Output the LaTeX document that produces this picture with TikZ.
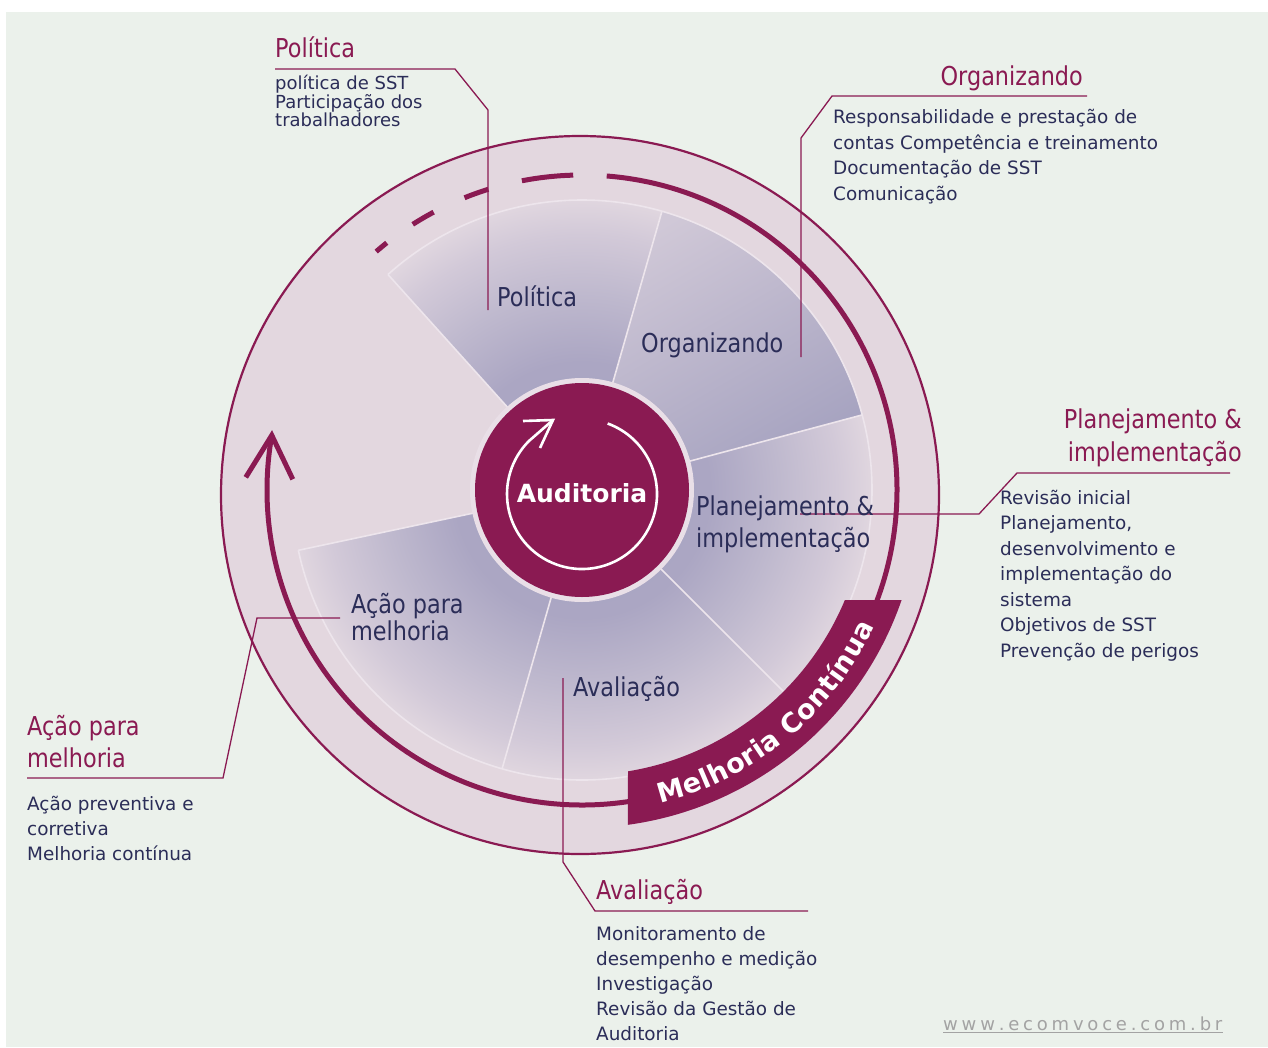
\documentclass[tikz,border=0pt]{standalone}
\usepackage{fontspec}
\setmainfont{DejaVu Sans}
\newfontfamily\tfont[FakeStretch=0.86]{DejaVu Sans}
\usetikzlibrary{decorations.text}
\definecolor{bgc}{HTML}{EBF1EB}
\definecolor{mar}{HTML}{8A1A52}
\definecolor{navy}{HTML}{2B2D58}
\definecolor{ringc}{HTML}{E3D7DF}
\definecolor{halo}{HTML}{E9DFE7}
\definecolor{sepc}{HTML}{EDE5EC}
\definecolor{webgray}{HTML}{A3A3A3}
\definecolor{pa}{HTML}{A6A2C0}
\definecolor{pb}{HTML}{ABA6C3}
\definecolor{pc}{HTML}{BFB9CE}
\definecolor{pd}{HTML}{D2C9D8}
\definecolor{pe}{HTML}{E0D6DF}
\definecolor{oa}{HTML}{D0C8D7}
\definecolor{ob}{HTML}{A4A1BF}
\pgfdeclareradialshading{pieshade}{\pgfpoint{0bp}{0bp}}{color(0bp)=(pa); color(11bp)=(pb); color(17bp)=(pc); color(22bp)=(pd); color(25bp)=(pe); color(50bp)=(pe)}
\newcommand\llines[2]{\vtop{\baselineskip=#1\lineskiplimit=-100pt\halign{##\hfil\cr#2\crcr}}}
\newcommand\rlines[2]{\vtop{\baselineskip=#1\lineskiplimit=-100pt\halign{\hfil##\cr#2\crcr}}}
\newcommand\mcfont{\bfseries\fontsize{25}{30}\selectfont}
\newcommand\bnfont{\bfseries\fontsize{27}{30}\selectfont}
\newcommand\lsp{\kern3.8pt}
\tikzset{
  lead/.style={draw=mar, line width=1.3pt},
  ttl/.style={inner sep=0, text=mar, font=\tfont\fontsize{26}{30}\selectfont},
  pielbl/.style={inner sep=0, text=navy, font=\tfont\fontsize{26}{30}\selectfont},
  body/.style={inner sep=0, text=navy, font=\fontsize{18.4}{25}\selectfont},
  cyc/.style={draw=mar, line width=5pt},
  sepline/.style={draw=sepc, line width=1.6pt},
}
\begin{document}
\begin{tikzpicture}[x=1pt,y=1pt]
\useasboundingbox (0,0) rectangle (1268,-1047);
\fill[bgc] (6,-12) rectangle (1268,-1047);
\coordinate (C) at (582,-490);
% outer disc
\filldraw[fill=ringc, draw=mar, line width=2.2pt] (580,-495) circle[radius=359];
% pie
\begin{scope}
  \clip (C) -- ++(132:290) arc[start angle=132, end angle=-168, radius=290] -- cycle;
  \shade[shading=pieshade] (C) circle[radius=290];
  \shade[top color=oa, bottom color=ob, shading angle=30] (C) -- ++(74:290) arc[start angle=74, end angle=15, radius=290] -- cycle;
\end{scope}
\draw[sepline] (C) ++(132:290) arc[start angle=132, end angle=-168, radius=290];
\foreach \a in {132,74,15,-45,-106,-168} \draw[sepline] (C) -- ++(\a:290);
% cycle arc
\draw[cyc] (C) ++(85.5:315) arc[start angle=85.5, end angle=-30, radius=315];
\foreach \a/\b in {130.8/128.3, 122.5/118.1, 111.9/107.3, 101/91.6}
  \draw[cyc] (C) ++(\a:315) arc[start angle=\a, end angle=\b, radius=315];
\draw[cyc] (C) ++(-78:315) arc[start angle=-78, end angle=-190, radius=315] coordinate (tip);
\draw[cyc, line join=miter] (tip) ++(-26,-42) -- (tip) -- ++(21,-44);
% banner
\fill[mar] (844.9,-600) -- (901.6,-600) arc[start angle=-19.0, end angle=-82.2, radius=338] -- (628,-771.3) arc[start angle=-80.7, end angle=-22.7, radius=285] -- cycle;
\path[decorate, decoration={text along path, text={|\color{white}\bnfont|Melhoria Contínua}, text align=fit to path}] (C) ++(-76:323) arc[start angle=-76, end angle=-25, radius=323];
% Auditoria
\fill[halo] (C) circle[radius=112];
\fill[mar] (C) circle[radius=107];
\coordinate (ac) at (582,-494);
\coordinate (atip) at (553,-420);
\draw[white, line width=2.6pt] (ac) ++(70:75) arc[start angle=70, end angle=-225, radius=75] -- (atip);
\draw[white, line width=2.6pt, line join=miter] (523,-421) -- (atip) -- (540,-448);
\node[anchor=base, text=white, font=\mcfont, inner sep=0] (aud) at (582,-502) {Auditoria};
% leader lines
\coordinate (l1a) at (275,-69); \coordinate (l1b) at (455,-69); \coordinate (l1c) at (488,-110); \coordinate (l1d) at (488,-310);
\draw[lead] (l1a) -- (l1b) -- (l1c) -- (l1d);
\coordinate (l2a) at (1087,-96); \coordinate (l2b) at (832,-96); \coordinate (l2c) at (801,-138); \coordinate (l2d) at (801,-357);
\draw[lead] (l2a) -- (l2b) -- (l2c) -- (l2d);
\coordinate (l3a) at (1230,-473); \coordinate (l3b) at (1017,-473); \coordinate (l3c) at (979,-514); \coordinate (l3d) at (800,-514);
\draw[lead] (l3a) -- (l3b) -- (l3c) -- (l3d);
\coordinate (l4a) at (27,-778); \coordinate (l4b) at (223,-778); \coordinate (l4c) at (257,-618); \coordinate (l4d) at (340,-618);
\draw[lead] (l4a) -- (l4b) -- (l4c) -- (l4d);
\coordinate (l5a) at (808,-911); \coordinate (l5b) at (595,-911); \coordinate (l5c) at (563,-862); \coordinate (l5d) at (563,-678);
\draw[lead] (l5a) -- (l5b) -- (l5c) -- (l5d);
% pie labels
\node[pielbl, anchor=base west] (ppol) at (497,-306) {Política};
\node[pielbl, anchor=base west] (porg) at (641,-352) {Organizando};
\node[pielbl, anchor=base west] (ppla) at (696,-515) {\llines{32pt}{Planejamento \&\cr implementação}};
\node[pielbl, anchor=base west] (pacao) at (351,-613) {\llines{27pt}{Ação para\cr melhoria}};
\node[pielbl, anchor=base west] (paval) at (573,-696) {Avaliação};
% titles
\node[ttl, anchor=base west] (tpol) at (275,-57) {Política};
\node[ttl, anchor=base east] (torg) at (1083,-85) {Organizando};
\node[ttl, anchor=base east] (tpla) at (1242,-428) {\rlines{33pt}{Planejamento \&\cr implementação}};
\node[ttl, anchor=base west] (tacao) at (27,-735) {\llines{32pt}{Ação para\cr melhoria}};
\node[ttl, anchor=base west] (taval) at (596,-899) {Avaliação};
% bodies
\node[body, anchor=base west, font=\fontsize{18}{19}\selectfont] (bpol) at (275,-89.5) {\llines{18.7pt}{política de SST\cr Participação dos\cr trabalhadores}};
\node[body, anchor=base west] (borg) at (833,-123.3) {\llines{25.7pt}{Responsabilidade e prestação de\cr contas Competência e treinamento\cr Documentação de SST\cr Comunicação}};
\node[body, anchor=base west] (bpla) at (1000,-504) {\llines{25.5pt}{Revisão inicial\cr Planejamento,\cr desenvolvimento e\cr implementação do\cr sistema\cr Objetivos de SST\cr Prevenção de perigos}};
\node[body, anchor=base west] (bacao) at (27,-810) {\llines{25pt}{Ação preventiva e\cr corretiva\cr Melhoria contínua}};
\node[body, anchor=base west] (baval) at (596,-940) {\llines{25pt}{Monitoramento de\cr desempenho e medição\cr Investigação\cr Revisão da Gestão de\cr Auditoria}};
% website
\node[anchor=base west, inner sep=0, text=webgray, font=\fontsize{18}{20}\selectfont] (web) at (943,-1030) {w\lsp w\lsp w\lsp .\lsp e\lsp c\lsp o\lsp m\lsp v\lsp o\lsp c\lsp e\lsp .\lsp c\lsp o\lsp m\lsp .\lsp b\lsp r};
\draw[webgray, line width=0.9pt] ([yshift=-2pt]web.base west) -- ([yshift=-2pt]web.base east);
\end{tikzpicture}
\end{document}
